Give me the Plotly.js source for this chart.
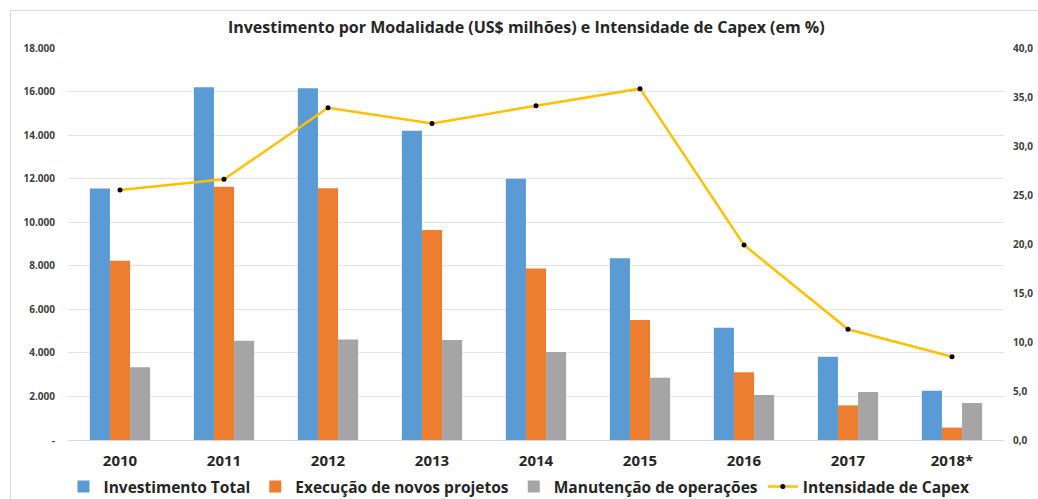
<!DOCTYPE html>
<html>
<head>
<meta charset="utf-8">
<script src="https://cdn.plot.ly/plotly-3.0.1.min.js"></script>
<style>
html,body{margin:0;padding:0;background:#fff;}
#wrap{position:relative;width:1038px;height:499px;}
#chart{width:1038px;height:499px;}
#frame{position:absolute;left:10px;top:10px;right:0;bottom:-5px;border-top:1px solid #d9d9d9;border-left:1px solid #d9d9d9;pointer-events:none;}
</style>
</head>
<body>
<div id="wrap"><div id="chart"></div><div id="frame"></div></div>
<script>
const categories = ["2010","2011","2012","2013","2014","2015","2016","2017","2018*"];
const investimentoTotal = [11550,16200,16150,14200,12000,8350,5150,3820,2260];
const novosProjetos = [8230,11630,11560,9640,7880,5510,3110,1590,570];
const manutencao = [3340,4560,4620,4590,4040,2860,2070,2200,1700];
const intensidadeCapex = [25.5,26.6,33.9,32.3,34.1,35.85,19.9,11.3,8.5];

const leftTickVals = [0,2000,4000,6000,8000,10000,12000,14000,16000,18000];
const leftTickText = ["-","2.000","4.000","6.000","8.000","10.000","12.000","14.000","16.000","18.000"];
const rightTickVals = [0,5,10,15,20,25,30,35,40];
const rightTickText = ["0,0","5,0","10,0","15,0","20,0","25,0","30,0","35,0","40,0"];

const F = '"Open Sans", "DejaVu Sans", sans-serif';
const dark = '#404040';

const traces = [
  {type:'bar', name:'Investimento Total', x:categories, y:investimentoTotal, marker:{color:'#5B9BD5'}},
  {type:'bar', name:'Execução de novos projetos', x:categories, y:novosProjetos, marker:{color:'#ED7D31'}},
  {type:'bar', name:'Manutenção de operações', x:categories, y:manutencao, marker:{color:'#A5A5A5'}},
  {type:'scatter', mode:'lines+markers', name:'Intensidade de Capex', x:categories, y:intensidadeCapex, yaxis:'y2',
   line:{color:'#FFC000', width:2.5}, marker:{color:'#000000', size:5}}
];

const layout = {
  width:1038, height:499,
  margin:{l:68, r:34, t:48, b:59, autoexpand:false},
  paper_bgcolor:'#ffffff', plot_bgcolor:'#ffffff',
  font:{family:F, color:dark},
  title:{text:'<b>Investimento por Modalidade (US$ milhões) e Intensidade de Capex (em %)</b>',
         font:{family:F, size:16, color:'#262626'}, x:0.507, xanchor:'center', y:1-27/499, yref:'container', yanchor:'middle'},
  barmode:'group', bargap:0.42, bargroupgap:0,
  xaxis:{type:'category', automargin:false, tickfont:{family:F, size:15, color:'#262626', weight:'bold'}, showgrid:false, showline:false, ticks:'', ticklabelstandoff:10},
  yaxis:{range:[0,18000], automargin:false, tickvals:leftTickVals, ticktext:leftTickText, tickfont:{family:F, size:10, color:dark, weight:'bold'},
         showgrid:true, gridcolor:'#e3e3e3', gridwidth:1, zeroline:true, zerolinecolor:'#d9d9d9', showline:false, ticks:'', ticklabelstandoff:12},
  yaxis2:{range:[0,40], automargin:false, overlaying:'y', side:'right', tickvals:rightTickVals, ticktext:rightTickText,
          tickfont:{family:F, size:10, color:dark, weight:'bold'}, showgrid:false, zeroline:false, showline:false, ticks:'', ticklabelstandoff:8},
  legend:{orientation:'h', x:0.5, xanchor:'center', xref:'container', y:1-487/499, yanchor:'middle', yref:'container',
          font:{family:F, size:15.5, color:'#262626', weight:'bold'},
          itemwidth:30, tracegroupgap:0, traceorder:'normal'},
  showlegend:true
};

Plotly.newPlot('chart', traces, layout, {displayModeBar:false, staticPlot:true});
</script>
</body>
</html>
